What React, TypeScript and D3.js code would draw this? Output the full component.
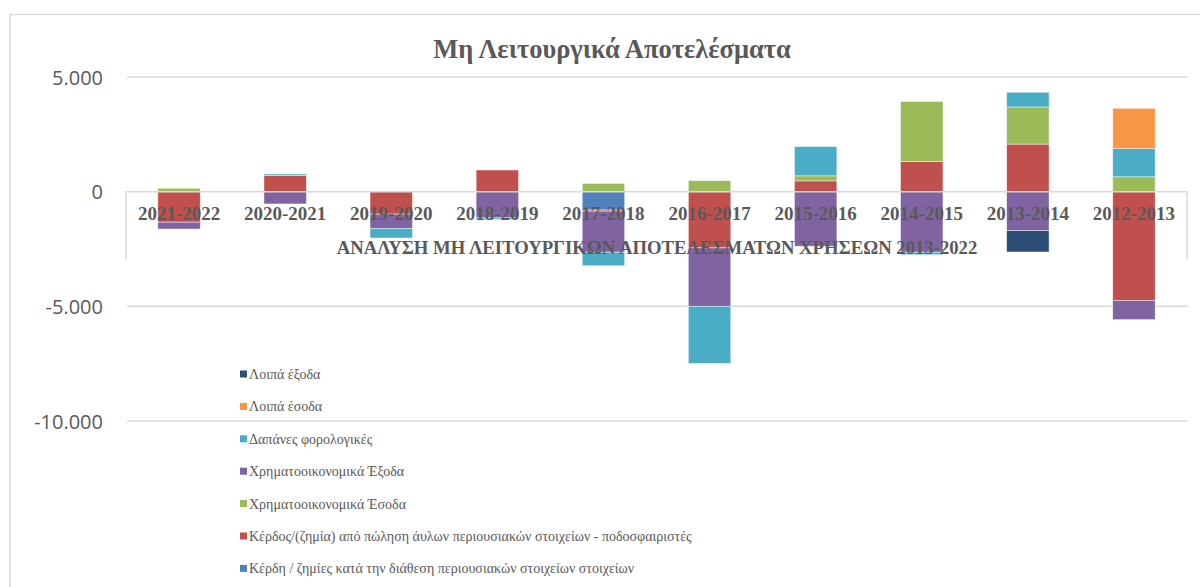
import * as d3 from "d3";

const WIDTH = 1200;
const HEIGHT = 587;

const categories = [
  "2021-2022",
  "2020-2021",
  "2019-2020",
  "2018-2019",
  "2017-2018",
  "2016-2017",
  "2015-2016",
  "2014-2015",
  "2013-2014",
  "2012-2013",
];

// series in Excel plotting order (first = closest to zero)
const seriesNames = [
  "Κέρδη / ζημίες κατά την διάθεση περιουσιακών στοιχείων στοιχείων",
  "Κέρδος/(ζημία) από πώληση άυλων περιουσιακών στοιχείων - ποδοσφαιριστές",
  "Χρηματοοικονομικά Έσοδα",
  "Χρηματοοικονομικά Έξοδα",
  "Δαπάνες φορολογικές",
  "Λοιπά έσοδα",
  "Λοιπά έξοδα",
];
const seriesColors = ["#4F81BD", "#C0504D", "#9BBB59", "#8064A2", "#4BACC6", "#F79646", "#2C4D75"];

const gainsDisposal = [0, 0, 0, 0, -800, 0, 0, 0, 0, 0];
const playerSales = [-1330, 700, -980, 945, -50, -2450, 470, 1320, 2075, -4740];
const finIncome = [150, 0, 0, 0, 360, 480, 220, 2610, 1620, 650];
const finExpenses = [-300, -535, -620, -1145, -1790, -2550, -2380, -2640, -1700, -840];
const taxes = [0, 70, -420, -70, -590, -2490, 1275, -110, 640, 1230];
const otherIncome = [0, 0, 0, 0, 0, 0, 0, 0, 0, 1755];
const otherExpenses = [0, 0, 0, 0, 0, 0, 0, 0, -930, 0];

const seriesValues = [gainsDisposal, playerSales, finIncome, finExpenses, taxes, otherIncome, otherExpenses];

const yTicks = [5000, 0, -5000, -10000];

const TEXT = "#595959";
const GRID = "#d9d9d9";
const SERIF = "'Liberation Serif', 'Times New Roman', serif";

// Greek number format: dot thousands separator, plain hyphen for minus
const fmt = (v: number) => (v < 0 ? "-" : "") + d3.format(",")(Math.abs(v)).replace(/,/g, ".");

export default function App() {
  const x = d3.scaleBand().domain(categories).range([126, 1187]).paddingInner(0.6).paddingOuter(0.3);
  const y = d3.scaleLinear().domain([-10000, 5000]).range([421, 77]);

  const rows = categories.map((c, i) => {
    const r: Record<string, number | string> = { cat: c };
    seriesNames.forEach((s, k) => (r[s] = seriesValues[k][i]));
    return r;
  });
  const stacked = d3
    .stack<Record<string, number | string>>()
    .keys(seriesNames)
    .value((d, key) => d[key] as number)
    .offset(d3.stackOffsetDiverging)(rows);

  const legendOrder = seriesNames.map((_, i) => i).reverse();

  return (
    <svg
      width={WIDTH}
      height={HEIGHT}
      style={{ position: "absolute", left: 0, top: 0, background: "#fff" }}
    >
      {/* outer frame */}
      <line x1={10} x2={WIDTH} y1={14.5} y2={14.5} stroke={GRID} strokeWidth={1.5} />
      <line x1={10} x2={10} y1={14} y2={HEIGHT} stroke={GRID} strokeWidth={1.5} />

      <text x={612} y={58} textAnchor="middle" fontFamily={SERIF} fontWeight="bold" fontSize={26.5} fill={TEXT}>
        Μη Λειτουργικά Αποτελέσματα
      </text>

      {/* gridlines + y labels */}
      {yTicks.map((t) => (
        <g key={t}>
          {t !== 0 && <line x1={127} x2={1188} y1={y(t)} y2={y(t)} stroke={GRID} strokeWidth={1.5} />}
          <text
            x={103}
            y={y(t) + 7.5}
            textAnchor="end"
            fontFamily="'Open Sans', sans-serif"
            fontSize={20}
            fill={TEXT}
          >
            {fmt(t)}
          </text>
        </g>
      ))}

      {/* bars */}
      {stacked.map((s, k) => (
        <g key={s.key} fill={seriesColors[k]}>
          {s.map((d, i) => {
            const h = Math.abs(y(d[0]) - y(d[1]));
            if (h < 0.1) return null;
            return (
              <rect
                key={i}
                x={x(categories[i])}
                y={Math.min(y(d[0]), y(d[1]))}
                width={x.bandwidth()}
                height={h}
                stroke="#ffffff"
                strokeOpacity={0.6}
                strokeWidth={0.75}
              />
            );
          })}
        </g>
      ))}

      {/* inner axis box */}
      <path
        d={`M126,259.5V${y(0)}H1187V259.5`}
        fill="none"
        stroke={GRID}
        strokeWidth={1.5}
      />

      {categories.map((c) => (
        <text
          key={c}
          x={(x(c) ?? 0) + x.bandwidth() / 2}
          y={220}
          textAnchor="middle"
          fontFamily={SERIF}
          fontWeight="bold"
          fontSize={19}
          fill={TEXT}
        >
          {c}
        </text>
      ))}

      <text x={657} y={254} textAnchor="middle" fontFamily={SERIF} fontWeight="bold" fontSize={18.7} fill={TEXT}>
        ΑΝΑΛΥΣΗ ΜΗ ΛΕΙΤΟΥΡΓΙΚΩΝ ΑΠΟΤΕΛΕΣΜΑΤΩΝ ΧΡΗΣΕΩΝ 2013-2022
      </text>

      {/* legend */}
      {legendOrder.map((k, j) => {
        const cy = 374 + j * 32.4;
        return (
          <g key={k}>
            <rect x={240} y={cy - 3.5} width={7} height={7} fill={seriesColors[k]} />
            <text x={249} y={cy + 5} fontFamily={SERIF} fontSize={14} fill={TEXT}>
              {seriesNames[k]}
            </text>
          </g>
        );
      })}
    </svg>
  );
}
